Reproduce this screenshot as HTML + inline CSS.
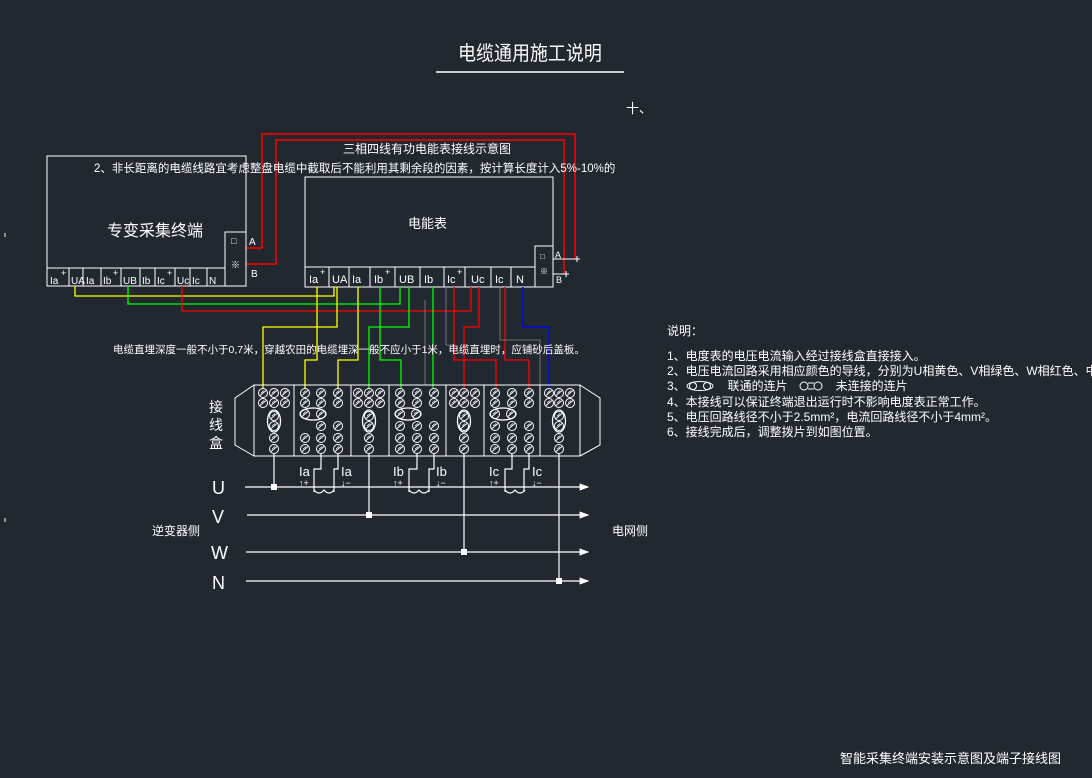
<!DOCTYPE html>
<html><head><meta charset="utf-8"><style>
html,body{margin:0;padding:0;background:#212830;}
svg{display:block;}
text{font-family:"Liberation Sans","Noto Sans CJK SC",sans-serif;fill:#fff;}
</style></head><body>
<svg width="1092" height="778" viewBox="0 0 1092 778" xmlns="http://www.w3.org/2000/svg">
<defs>
<g id="c"><circle r="4.5" fill="none" stroke="#fff" stroke-width="1"/><line x1="-3" y1="2.5" x2="3" y2="-2.5" stroke="#fff" stroke-width="1"/><line x1="-2" y1="0" x2="1" y2="-2.5" stroke="#fff" stroke-width="0.8"/></g>
<g id="vo"><ellipse cx="0" cy="0" rx="6.5" ry="11" fill="none" stroke="#fff" stroke-width="1.3"/><use href="#c" y="-5"/><use href="#c" y="5"/></g>
<g id="ho"><ellipse cx="0" cy="0" rx="13" ry="6" fill="none" stroke="#fff" stroke-width="1.3"/><use href="#c" x="-8"/><use href="#c" x="8"/></g>
<marker id="ar" markerWidth="8" markerHeight="6" refX="7" refY="3" orient="auto"><path d="M0,0 L8,3 L0,6 z" fill="#fff"/></marker>
</defs>

<!-- title -->
<text x="458" y="60" font-size="18" transform="translate(0,-6) scale(1,1.1)">电缆通用施工说明</text>
<line x1="436" y1="72" x2="624" y2="72" stroke="#fff" stroke-width="1.5"/>
<text x="626" y="113" font-size="13">十、</text>
<line x1="5" y1="233" x2="5" y2="237" stroke="#fff"/>
<line x1="5" y1="518" x2="5" y2="522" stroke="#fff"/>

<!-- red top lines -->
<g fill="none" stroke="#f00" stroke-width="1.5">
<polyline points="246,248 262,248 262,134 575,134 575,259"/>
<polyline points="246,264 276,264 276,140 564,140 564,274"/>
</g>
<g stroke="#fff" stroke-width="1">
<line x1="553" y1="259" x2="580" y2="259"/><line x1="577" y1="256" x2="577" y2="262"/>
<line x1="553" y1="274" x2="569" y2="274"/><line x1="566" y1="271" x2="566" y2="277"/>
</g>
<text x="343" y="153" font-size="12">三相四线有功电能表接线示意图</text>

<!-- left box -->
<g fill="none" stroke="#fff" stroke-width="1">
<rect x="47" y="156" width="199" height="130"/>
<line x1="47" y1="268" x2="225" y2="268"/>
<rect x="225" y="232" width="21" height="54"/>
<line x1="69" y1="268" x2="69" y2="286"/><line x1="83" y1="268" x2="83" y2="286"/><line x1="101" y1="268" x2="101" y2="286"/><line x1="121" y1="268" x2="121" y2="286"/><line x1="140" y1="268" x2="140" y2="286"/><line x1="155" y1="268" x2="155" y2="286"/><line x1="175" y1="268" x2="175" y2="286"/><line x1="190" y1="268" x2="190" y2="286"/><line x1="207" y1="268" x2="207" y2="286"/>
</g>
<g font-size="10">
<text x="50" y="284">Ia</text><text x="61" y="276" font-size="9">+</text><text x="71" y="284">UA</text><text x="86" y="284">Ia</text><text x="103" y="284">Ib</text><text x="113" y="276" font-size="9">+</text><text x="123" y="284">UB</text><text x="142" y="284">Ib</text><text x="157" y="284">Ic</text><text x="167" y="276" font-size="9">+</text><text x="177" y="284">Uc</text><text x="192" y="284">Ic</text><text x="209" y="284">N</text>
<text x="231" y="244" font-size="9">□</text><text x="249" y="245">A</text><text x="251" y="277">B</text><text x="231" y="268" font-size="9">※</text>
</g>
<text x="107" y="236" font-size="16">专变采集终端</text>
<text x="94" y="172" font-size="11.5">2、非长距离的电缆线路宜考虑整盘电缆中截取后不能利用其剩余段的因素，按计算长度计入5%-10%的</text>

<!-- meter box -->
<g fill="none" stroke="#fff" stroke-width="1">
<rect x="305" y="177" width="248" height="110"/>
<line x1="305" y1="267" x2="535" y2="267"/>
<rect x="535" y="246" width="18" height="41"/>
<line x1="329" y1="267" x2="329" y2="287"/><line x1="349" y1="267" x2="349" y2="287"/><line x1="370" y1="267" x2="370" y2="287"/><line x1="395" y1="267" x2="395" y2="287"/><line x1="420" y1="267" x2="420" y2="287"/><line x1="444" y1="267" x2="444" y2="287"/><line x1="465" y1="267" x2="465" y2="287"/><line x1="491" y1="267" x2="491" y2="287"/><line x1="511" y1="267" x2="511" y2="287"/>
</g>
<g font-size="11">
<text x="309" y="283">Ia</text><text x="320" y="275" font-size="9">+</text><text x="332" y="283">UA</text><text x="352" y="283">Ia</text><text x="374" y="283">Ib</text><text x="385" y="275" font-size="9">+</text><text x="399" y="283">UB</text><text x="424" y="283">Ib</text><text x="447" y="283">Ic</text><text x="457" y="275" font-size="9">+</text><text x="471" y="283">Uc</text><text x="495" y="283">Ic</text><text x="516" y="283">N</text>
<text x="540" y="259" font-size="8">□</text><text x="540" y="274" font-size="8">※</text><text x="555" y="258" font-size="9">A</text><text x="556" y="283" font-size="9">B</text>
</g>
<text x="408" y="228" font-size="13">电能表</text>

<!-- cross wires under boxes -->
<g fill="none" stroke-width="1.3">
<polyline stroke="#ff0" points="75,286 75,296 334,296 334,287"/>
<polyline stroke="#0f0" points="128,286 128,304 400,304 400,287"/>
<polyline stroke="#f00" points="182,286 182,311 471,311 471,287"/>
<polyline stroke="#ff0" points="317,287 317,360 305,360 305,388"/>
<polyline stroke="#ff0" points="337,287 337,327 263,327 263,388"/>
<polyline stroke="#ff0" points="358,287 358,360 338,360 338,388"/>
<polyline stroke="#0f0" points="380,287 380,360 401,360 401,388"/>
<polyline stroke="#0f0" points="409,287 409,327 369,327 369,388"/>
<polyline stroke="#0f0" points="433,287 433,388"/>
<polyline stroke="#f00" points="454,287 454,360 496,360 496,388"/>
<polyline stroke="#f00" points="479,287 479,327 464,327 464,388"/>
<polyline stroke="#f00" points="505,287 505,360 529,360 529,388"/>
<polyline stroke="#00f" points="523,287 523,327 549,327 549,388"/>
</g>
<g fill="none" stroke="#888" stroke-width="0.8">
<polyline points="446,287 446,345 455,345"/>
<polyline points="500,287 500,340 540,340 540,385"/>
<polyline points="425,300 425,385"/>
</g>
<text x="113" y="353" font-size="10.5">电缆直埋深度一般不小于0,7米，穿越农田的电缆埋深一般不应小于1米，电缆直埋时，应铺砂后盖板。</text>

<!-- junction box -->
<g fill="none" stroke="#fff" stroke-width="1">
<rect x="254" y="385" width="326" height="71"/>
<polyline points="254,385 235,398 235,445 254,456"/>
<polyline points="580,385 600,398 600,445 580,456"/>
<line x1="294" y1="385" x2="294" y2="456"/><line x1="351" y1="385" x2="351" y2="456"/><line x1="389" y1="385" x2="389" y2="456"/><line x1="446" y1="385" x2="446" y2="456"/><line x1="484" y1="385" x2="484" y2="456"/><line x1="540" y1="385" x2="540" y2="456"/>
</g>
<g font-size="14"><text x="209" y="412">接</text><text x="209" y="430">线</text><text x="209" y="448">盒</text></g>

<g>
<use href="#c" x="263" y="393"/><use href="#c" x="274" y="393"/><use href="#c" x="285" y="393"/>
<use href="#c" x="263" y="403"/><use href="#c" x="274" y="403"/><use href="#c" x="285" y="403"/>
<use href="#vo" x="274" y="421"/><use href="#c" x="274" y="438"/><use href="#c" x="274" y="449"/>

<use href="#c" x="358" y="393"/><use href="#c" x="369" y="393"/><use href="#c" x="380" y="393"/>
<use href="#c" x="358" y="403"/><use href="#c" x="369" y="403"/><use href="#c" x="380" y="403"/>
<use href="#vo" x="369" y="421"/><use href="#c" x="369" y="438"/><use href="#c" x="369" y="449"/>

<use href="#c" x="454" y="393"/><use href="#c" x="464" y="393"/><use href="#c" x="475" y="393"/>
<use href="#c" x="454" y="403"/><use href="#c" x="464" y="403"/><use href="#c" x="475" y="403"/>
<use href="#vo" x="464" y="421"/><use href="#c" x="464" y="438"/><use href="#c" x="464" y="449"/>

<use href="#c" x="549" y="393"/><use href="#c" x="559" y="393"/><use href="#c" x="570" y="393"/>
<use href="#c" x="549" y="403"/><use href="#c" x="559" y="403"/><use href="#c" x="570" y="403"/>
<use href="#vo" x="559" y="421"/><use href="#c" x="559" y="438"/><use href="#c" x="559" y="449"/>
</g>
<g>
<use href="#c" x="305" y="393"/><use href="#c" x="321" y="393"/><use href="#c" x="338" y="393"/>
<use href="#c" x="305" y="403"/><use href="#c" x="321" y="403"/><use href="#c" x="338" y="403"/>
<use href="#ho" x="313" y="414"/><use href="#c" x="321" y="426"/><use href="#c" x="338" y="426"/>
<use href="#c" x="305" y="438"/><use href="#c" x="321" y="438"/><use href="#c" x="338" y="438"/>
<use href="#c" x="305" y="449"/><use href="#c" x="321" y="449"/><use href="#c" x="338" y="449"/>

<use href="#c" x="400" y="393"/><use href="#c" x="417" y="393"/><use href="#c" x="434" y="393"/>
<use href="#c" x="400" y="403"/><use href="#c" x="417" y="403"/><use href="#c" x="434" y="403"/>
<use href="#ho" x="408" y="414"/><use href="#c" x="400" y="426"/><use href="#c" x="417" y="426"/><use href="#c" x="434" y="426"/>
<use href="#c" x="400" y="438"/><use href="#c" x="417" y="438"/><use href="#c" x="434" y="438"/>
<use href="#c" x="400" y="449"/><use href="#c" x="417" y="449"/><use href="#c" x="434" y="449"/>

<use href="#c" x="495" y="393"/><use href="#c" x="512" y="393"/><use href="#c" x="529" y="393"/>
<use href="#c" x="495" y="403"/><use href="#c" x="512" y="403"/><use href="#c" x="529" y="403"/>
<use href="#ho" x="503" y="414"/><use href="#c" x="495" y="426"/><use href="#c" x="512" y="426"/><use href="#c" x="529" y="426"/>
<use href="#c" x="495" y="438"/><use href="#c" x="512" y="438"/><use href="#c" x="529" y="438"/>
<use href="#c" x="495" y="449"/><use href="#c" x="512" y="449"/><use href="#c" x="529" y="449"/>
</g>

<g stroke="#fff" stroke-width="1.2" fill="none">
<line x1="245" y1="487" x2="588" y2="487" marker-end="url(#ar)"/>
<line x1="247" y1="515" x2="588" y2="515" marker-end="url(#ar)"/>
<line x1="246" y1="552" x2="588" y2="552" marker-end="url(#ar)"/>
<line x1="246" y1="581" x2="588" y2="581" marker-end="url(#ar)"/>
<line x1="274" y1="454" x2="274" y2="487"/>
<line x1="369" y1="454" x2="369" y2="515"/>
<line x1="464" y1="454" x2="464" y2="552"/>
<line x1="559" y1="454" x2="559" y2="581"/>
<polyline points="321,454 321,469 314,469 314,492"/><polyline points="338,454 338,469 334,469 334,492"/>
<path d="M314,490 q5,6 10,0 q5,6 10,0"/>
<polyline points="417,454 417,469 409,469 409,492"/><polyline points="434,454 434,469 429,469 429,492"/>
<path d="M409,490 q5,6 10,0 q5,6 10,0"/>
<polyline points="512,454 512,469 505,469 505,492"/><polyline points="529,454 529,469 524,469 524,492"/>
<path d="M505,490 q5,6 10,0 q5,6 10,0"/>
</g>
<g fill="#fff"><rect x="271" y="484" width="6" height="6"/><rect x="366" y="512" width="6" height="6"/><rect x="461" y="549" width="6" height="6"/><rect x="556" y="578" width="6" height="6"/></g>
<g font-size="13">
<text x="299" y="476">Ia</text><text x="341" y="476">Ia</text>
<text x="393" y="476">Ib</text><text x="436" y="476">Ib</text>
<text x="489" y="476">Ic</text><text x="532" y="476">Ic</text>
</g>
<g font-size="9">
<text x="299" y="486">↑+</text><text x="341" y="486">↓−</text>
<text x="393" y="486">↑+</text><text x="436" y="486">↓−</text>
<text x="489" y="486">↑+</text><text x="532" y="486">↓−</text>
</g>
<g font-size="18"><text x="212" y="494">U</text><text x="212" y="523">V</text><text x="211" y="559">W</text><text x="212" y="589">N</text></g>
<text x="152" y="535" font-size="12">逆变器侧</text>
<text x="612" y="535" font-size="12">电网侧</text>

<g font-size="12">
<text x="667" y="335">说明：</text>
<text x="667" y="360">1、电度表的电压电流输入经过接线盒直接接入。</text>
<text x="667" y="375">2、电压电流回路采用相应颜色的导线，分别为U相黄色、V相绿色、W相红色、中性线N相蓝</text>
<text x="667" y="390">3、　　　　联通的连片　　　　未连接的连片</text>
<text x="667" y="406">4、本接线可以保证终端退出运行时不影响电度表正常工作。</text>
<text x="667" y="421">5、电压回路线径不小于2.5mm²，电流回路线径不小于4mm²。</text>
<text x="667" y="436">6、接线完成后，调整拨片到如图位置。</text>
</g>
<g fill="none" stroke="#fff" stroke-width="1">
<ellipse cx="700" cy="386" rx="13" ry="4.5"/><circle cx="693" cy="386" r="3.5"/><circle cx="707" cy="386" r="3.5"/>
<circle cx="804" cy="386" r="4"/><circle cx="818" cy="386" r="4"/><line x1="808" y1="383" x2="814" y2="383"/><line x1="808" y1="389" x2="814" y2="389"/>
</g>
<text x="840" y="763" font-size="13">智能采集终端安装示意图及端子接线图</text>
</svg>
</body></html>
